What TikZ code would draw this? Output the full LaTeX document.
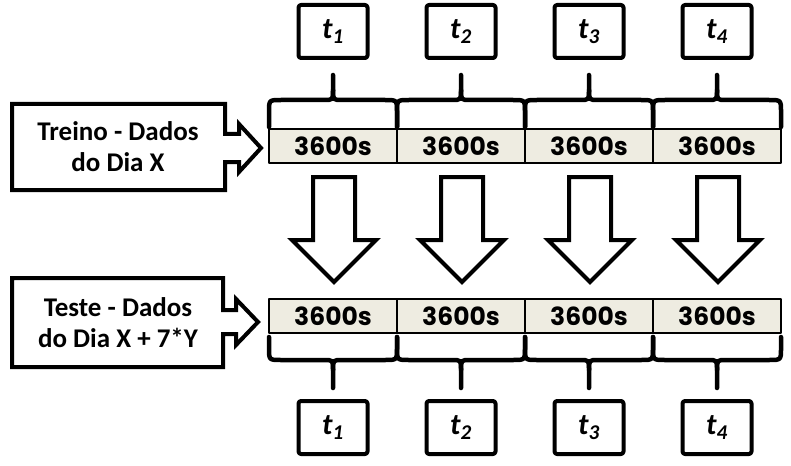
\documentclass[tikz,border=0pt]{standalone}
\usepackage{fontspec}
\setmainfont{Carlito}
\newfontfamily\cellfont{Poppins}
\usepackage{tikz}
\usetikzlibrary{positioning}
\definecolor{celfill}{HTML}{EEECE1}

\begin{document}
\begin{tikzpicture}[line cap=round,line join=round,x=1pt,y=-1pt,
    celula/.style={draw=black,line width=1.1pt,fill=celfill,minimum width=128pt,minimum height=34pt,inner sep=0pt,
        font=\cellfont\bfseries\fontsize{25}{26}\selectfont},
    tcaixa/.style={draw=black,line width=4pt,rounded corners=2.5pt,minimum width=69pt,minimum height=53pt,inner sep=0pt,
        font=\bfseries\itshape\fontsize{30}{30}\selectfont},
    rotulo/.style={align=center,font=\bfseries\fontsize{27}{31}\selectfont},
    chave/.style={line width=4.5pt},
    seta/.style={line width=4pt,fill=white,line join=miter}]
    \useasboundingbox (0,0) rectangle (791,465);
    % celulas de 3600s (treino em cima, teste em baixo)
    \foreach \i/\x in {1/333,2/461,3/589,4/717} {
        \node[celula] (tr\i) at (\x,146) {3600s};
        \node[celula] (te\i) at (\x,316) {3600s};
        \node[tcaixa] (ta\i) at (\x,31.5) {t\textsubscript{\i}};
        \node[tcaixa] (tb\i) at (\x,427.5) {t\textsubscript{\i}};
    }
    % chaves
    \foreach \x in {269,397,525,653} {
        \draw[chave] (\x,127) -- (\x,112) .. controls (\x,100) .. (\x+12,100) -- (\x+55,100)
            .. controls (\x+64,100) .. (\x+64,90) -- (\x+64,75);
        \draw[chave] (\x+64,90) .. controls (\x+64,100) .. (\x+73,100) -- (\x+116,100)
            .. controls (\x+128,100) .. (\x+128,112) -- (\x+128,127);
        \draw[chave] (\x,337) -- (\x,348) .. controls (\x,360) .. (\x+12,360) -- (\x+55,360)
            .. controls (\x+64,360) .. (\x+64,370) -- (\x+64,388);
        \draw[chave] (\x+64,370) .. controls (\x+64,360) .. (\x+73,360) -- (\x+116,360)
            .. controls (\x+128,360) .. (\x+128,348) -- (\x+128,337);
    }
    % setas para baixo
    \foreach \x in {334,462,590,718}
        \draw[seta] (\x-21,177) -- (\x+21,177) -- (\x+21,240) -- (\x+42,240) -- (\x,282)
            -- (\x-42,240) -- (\x-21,240) -- cycle;
    % caixas de texto com seta
    \draw[seta] (12,104) -- (225,104) -- (225,134) -- (239,134) -- (239,124) -- (261,148)
        -- (239,172) -- (239,162) -- (225,162) -- (225,190) -- (12,190) -- cycle;
    \draw[seta] (12,278) -- (223,278) -- (223,310) -- (236,310) -- (236,299) -- (258,322)
        -- (236,345) -- (236,334) -- (223,334) -- (223,367) -- (12,367) -- cycle;
    \node[rotulo] (treino) at (118,147) {Treino - Dados\\do Dia X};
    \node[rotulo] (teste) at (118,323) {Teste - Dados\\do Dia X + 7*Y};
\end{tikzpicture}
\end{document}
